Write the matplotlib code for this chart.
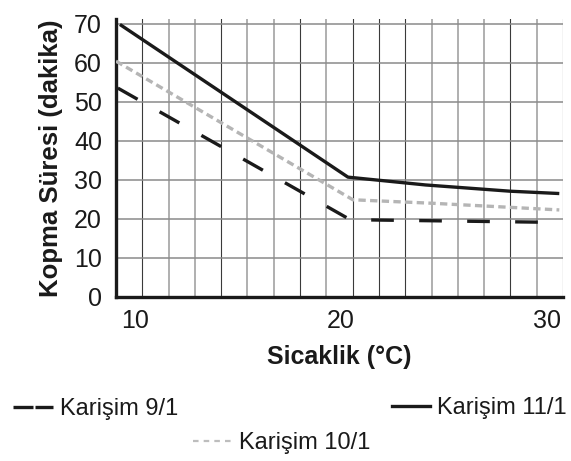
import matplotlib
matplotlib.use("Agg")
import matplotlib.pyplot as plt
from matplotlib.lines import Line2D
import numpy as np

plt.rcParams['font.family'] = ['Liberation Sans', 'DejaVu Sans']

# Data
x_91 = [9.17, 20.45, 30.6]
y_91 = [53.5, 19.8, 19.1]
x_101 = [9.08, 20.58, 24.47, 30.6]
y_101 = [60.4, 24.9, 24.0, 22.3]
x_111 = [9.27, 20.34, 24.1, 28.2, 30.6]
y_111 = [69.8, 30.7, 28.7, 27.1, 26.5]

labels = ['Karişim 9/1', 'Karişim 10/1', 'Karişim 11/1']
xticks = [10, 20, 30]
yticks = [0, 10, 20, 30, 40, 50, 60, 70]
xlabel = 'Sicaklik (°C)'
ylabel = 'Kopma Süresi (dakika)'

W, H = 571, 461
fig = plt.figure(figsize=(W / 100, H / 100), dpi=100)
ax = fig.add_axes([116 / W, 1 - 297 / H, (563 - 116) / W, (297 - 19) / H])

xmin, xmax = 9.08, 30.78
ax.set_xlim(xmin, xmax)
ax.set_ylim(0, 71.2)

# grid (mixed dark / gray vertical lines as in the reference)
dark_flags = [1, 0, 0, 1, 0, 0, 1, 0, 1, 1, 1, 0, 0, 0, 1, 0, 1]
for gx, d in zip(np.linspace(xmin, xmax, 18)[1:], dark_flags):
    if d:
        ax.axvline(gx, color='#3a3a3a', lw=0.8, zorder=1)
    else:
        ax.axvline(gx, color='#9a9a9a', lw=1.1, zorder=1)
for gy in yticks[1:]:
    ax.axhline(gy, color='#8a8a8a', lw=1.1, zorder=1)

black = '#1a1a1a'
gray = '#b5b5b5'
ax.plot(x_111, y_111, color=black, lw=2.4, solid_capstyle='butt', zorder=3)
ax.plot(x_101, y_101, color=gray, lw=2.4, dashes=(2.2, 1.3), zorder=3)
ax.plot(x_91, y_91, color=black, lw=2.4, dashes=(6.8, 7.6), zorder=3)

ax.set_xticks(xticks)
ax.set_yticks(yticks)
ax.tick_params(axis='both', length=0, labelsize=18, colors='#1a1a1a')
ax.tick_params(axis='x', pad=9)
ax.tick_params(axis='y', pad=10)

for s in ['top', 'right']:
    ax.spines[s].set_visible(False)
for s in ['left', 'bottom']:
    ax.spines[s].set_linewidth(2.4)
    ax.spines[s].set_color(black)

ax.set_xlabel(xlabel, fontsize=18, fontweight='bold', labelpad=8, color=black)
ax.set_ylabel(ylabel, fontsize=18.5, fontweight='bold', labelpad=8, color=black)

# legend
h91 = Line2D([], [], color=black, lw=2.4, dashes=(6.0, 0.6))
h101 = Line2D([], [], color='#bdbdbd', lw=1.6, dashes=(2.5, 2.3))
h111 = Line2D([], [], color=black, lw=2.4)

def leg(h, lab, xpx, ypx, hl, fs=17):
    lg = fig.legend(handles=[h], labels=[lab], loc='center left',
                    bbox_to_anchor=(xpx / W, 1 - ypx / H), frameon=False,
                    fontsize=fs, handlelength=hl, handletextpad=0.3,
                    borderpad=0, borderaxespad=0)
    for t in lg.get_texts():
        t.set_color(black)
    return lg

leg(h91, labels[0], 13, 409, 1.7)
leg(h111, labels[2], 392, 408, 1.6)
leg(h101, labels[1], 193, 443, 1.65)

fig.savefig('out.png', dpi=100)
